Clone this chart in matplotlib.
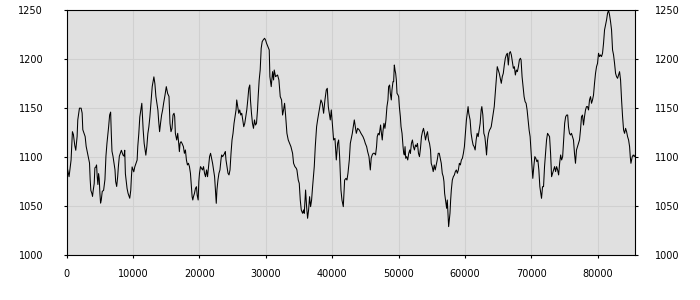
import numpy as np
import matplotlib
matplotlib.use('Agg')
import matplotlib.pyplot as plt

# values
pos = [0, 354, 657, 758, 859, 1010, 1212, 1364, 1465, 1566, 1667, 1919, 2172, 2323, 2424, 2626,
       2778, 2929, 3131, 3333, 3434, 3535, 3636, 3788, 3889, 3990, 4141, 4242, 4394, 4495, 4596,
       4697, 4798, 4899, 5000, 5101, 5202, 5353, 5555, 5757, 5909, 6060, 6212, 6313, 6464, 6616,
       6717, 6818, 6969, 7121, 7272, 7373, 7525, 7676, 7777, 7929, 8080, 8232, 8383, 8484, 8636,
       8737, 8838, 8939, 9090, 9242, 9494, 9646, 9747, 9848, 9999, 10100, 10252, 10454, 10605,
       10706, 10858, 11009, 11161, 11312, 11413, 11514, 11666, 11918, 12070, 12221, 12373, 12524,
       12726, 12878, 13130, 13282, 13433, 13585, 13736, 13837, 13989, 14140, 14292, 14443, 14595,
       14797, 14999, 15201, 15403,
       15556, 15707, 15859, 16010, 16162, 16263, 16364, 16566, 16717, 16869, 16970, 17071, 17222,
       17374, 17576, 17727, 17879, 18030, 18182, 18333, 18485, 18636, 18788, 18889, 18990, 19091,
       19242, 19394, 19545, 19646, 19798, 19899, 20000, 20152, 20303, 20455, 20606, 20758, 20909,
       21061, 21212, 21364, 21515, 21667, 21818, 21970, 22121, 22273, 22424, 22525, 22626, 22778,
       22929, 23081, 23232, 23333, 23485, 23636, 23788, 23889, 23990, 24141, 24293, 24444, 24596,
       24747, 24899, 25050, 25202, 25353, 25505, 25606, 25757, 25909, 26060, 26212, 26363, 26515,
       26666, 26818, 26969, 27121, 27272, 27424, 27575, 27676, 27828, 27979, 28131, 28282, 28434,
       28585, 28737, 28838, 28989, 29141, 29292, 29444, 29595, 29797, 29949, 30100,
       30503, 30603, 30804, 31005, 31156, 31256, 31457, 31759, 31960, 32161, 32362, 32513, 32663,
       32814, 32965, 33166, 33367, 33568, 33769, 34020, 34171, 34372, 34573, 34673, 34874, 35025,
       35176, 35327, 35528, 35678, 35779, 35980, 36131, 36281, 36432, 36583, 36734, 36884, 37035,
       37286, 37437, 37638, 37789, 38040, 38291, 38492, 38693, 38894, 39095, 39246, 39397, 39548,
       39698, 39849, 40000, 40201, 40402, 40603, 40804, 40955, 41105, 41306, 41457, 41658, 41859,
       42060, 42211, 42362, 42563, 42714, 43015, 43316, 43467, 43618, 43819, 44070, 44321, 44623,
       44824, 44975, 45176, 45326, 45527, 45728,
       45859, 46011, 46162, 46364, 46516, 46667, 46768, 46920, 47071, 47172, 47273, 47374, 47526,
       47627, 47778, 47930, 48081, 48233, 48384, 48485, 48637, 48738, 48889, 48990, 49142, 49243,
       49344, 49445, 49546, 49647, 49748, 49899, 50000, 50101, 50253, 50354, 50505, 50657, 50758,
       50859, 50960, 51061, 51212, 51364, 51515, 51667, 51768, 51919, 52071, 52222, 52374, 52525,
       52677, 52828, 52980, 53131, 53283, 53434, 53586, 53737, 53889, 54040, 54192, 54343, 54495,
       54646, 54798, 54899, 55050, 55202, 55353, 55505, 55656, 55808, 55959, 56111, 56262, 56414,
       56565, 56717, 56818, 56919, 57020, 57121, 57222, 57323, 57424, 57525, 57626, 57727, 57828,
       57929, 58080, 58232, 58383, 58535, 58686, 58838, 58989, 59141, 59292, 59444, 59595, 59747,
       59898, 60050, 60201, 60353, 60454, 60555,
       60758, 60909, 61061, 61212, 61364, 61515, 61667, 61818, 61970, 62121, 62273, 62424, 62525,
       62677, 62828, 62980, 63131, 63232, 63384, 63535, 63687, 63838, 63939, 64091, 64242, 64394,
       64545, 64697, 64848, 65000, 65151, 65303, 65454, 65606, 65757, 65909, 66060, 66212, 66363,
       66515, 66666, 66818, 66969, 67121, 67272, 67424, 67575, 67727, 67878, 68030, 68181, 68333,
       68434, 68585, 68737, 68888, 69040, 69191, 69343, 69494, 69646, 69797, 69949, 70050, 70202,
       70353, 70505, 70656, 70808, 70959, 71111, 71262, 71414, 71515, 71666, 71818, 71969, 72121,
       72272, 72424, 72575, 72727, 72878, 73030, 73181, 73333, 73484, 73636, 73787, 73939, 74090,
       74242, 74393, 74545, 74696, 74848, 74999, 75151, 75302, 75454,
       75574, 75725, 75875, 76026, 76177, 76328, 76479, 76630, 76781, 76932, 77083, 77233, 77384,
       77535, 77686, 77837, 77988, 78139, 78290, 78441, 78592, 78743, 78893, 79044, 79195, 79346,
       79497, 79648, 79799, 79950, 80101, 80252, 80402, 80553, 80704, 80855, 81006, 81157, 81308,
       81459, 81610, 81761, 81911, 82062, 82213, 82364, 82515, 82666, 82817, 82968, 83119, 83270,
       83420, 83571, 83722, 83873, 84024, 84175, 84326, 84477, 84628, 84779, 84879, 84980, 85080,
       85181, 85332, 85483, 85634]

level = [1092, 1080, 1097, 1111, 1126, 1123, 1112, 1107, 1114, 1121, 1138, 1150, 1150, 1145, 1128, 1124,
         1121, 1111, 1104, 1097, 1094, 1077, 1066, 1063, 1060, 1066, 1073, 1089, 1090, 1092, 1080,
         1072, 1083, 1078, 1063, 1053, 1056, 1065, 1066, 1077, 1101, 1114, 1124, 1131, 1143, 1146,
         1124, 1106, 1101, 1094, 1087, 1075, 1070, 1080, 1090, 1101, 1104, 1107, 1104, 1102, 1101,
         1107, 1083, 1077, 1068, 1063, 1058, 1066, 1080, 1090, 1087, 1085, 1090, 1094, 1097,
         1111, 1124, 1141, 1148, 1155, 1141, 1128, 1114, 1102, 1111, 1124, 1131, 1141,
         1158, 1172, 1182, 1175, 1162, 1155, 1148, 1138, 1126, 1135, 1143, 1148, 1155,
         1163, 1172, 1165, 1162,
         1134.5, 1126, 1129.4, 1143, 1144.8, 1141.3, 1124.3, 1117.5, 1124.3, 1114, 1105.6, 1114, 1115.8,
         1114, 1110.7, 1103.9, 1107.3, 1097.1, 1092, 1093.7, 1090.3, 1083.5, 1069.8, 1059.6, 1056.2, 1059.6,
         1063, 1068.1, 1069.8, 1061.3, 1056.2, 1075, 1083.5, 1090.3, 1088.6, 1086.9, 1090.3, 1083.5, 1080,
         1086.9, 1080, 1090.3, 1100.5, 1103.9, 1098.8, 1093.7, 1086.9, 1080, 1063, 1052.8, 1066.4, 1076.6,
         1083.5, 1086.9, 1097.1, 1102.2, 1100.5, 1102.2, 1103.9, 1105.6, 1097.1, 1090.3, 1083.5, 1081.8, 1086.9,
         1103.9, 1117.5, 1124.3, 1134.5, 1141.3, 1148.2, 1158.4, 1151.6, 1144.8, 1148.2, 1143, 1144.8, 1138,
         1131.1, 1134.5, 1141.3, 1148.2, 1158.4, 1170.3, 1173.7, 1158.4, 1144.8, 1134.5, 1129.4, 1138, 1132.8,
         1134.5, 1148.2, 1161.8, 1178.8, 1189, 1211.2, 1218, 1219.7, 1221.4, 1219.7, 1216.3,
         1209.5, 1182.2, 1172, 1187.3, 1178.8, 1189, 1182.2, 1183.9, 1178.8, 1161.8, 1158.4, 1143, 1148.2,
         1155, 1143, 1124.3, 1117.5, 1114, 1110.7, 1103.9, 1093.7, 1090.3, 1088.6, 1086.9, 1076.6, 1073.2,
         1056.2, 1046, 1042.6, 1046, 1042.6, 1066.4, 1049.4, 1037.5, 1046, 1059.6, 1049.4, 1056.2, 1069.8,
         1090.3, 1110.7, 1131.1, 1138, 1148.2, 1158.4, 1155, 1144.8, 1158.4, 1168.6, 1170.3, 1151.6, 1144.8,
         1138, 1148.2, 1134.5, 1117.5, 1119.2, 1097.1, 1114, 1117.5, 1100.5, 1066.4, 1056.2, 1049.4, 1076.6,
         1078.3, 1076.6, 1083.5, 1097.1, 1114, 1124.3, 1138, 1131.1, 1124.3, 1129.4, 1127.7, 1124.3, 1120.9,
         1117.5, 1114, 1110.7, 1105.6, 1100.5, 1086.9,
         1098.8, 1102.2, 1103.9, 1103.9, 1102.2, 1110.7, 1120.9, 1124.3, 1122.6, 1127.7, 1132.8, 1126, 1117.5,
         1126, 1134.5, 1129.4, 1138, 1151.6, 1158.4, 1172, 1173.7, 1165.2, 1158.4, 1168.6, 1177.1, 1177.1,
         1194.1, 1189, 1185.6, 1178.8, 1165.2, 1163.5, 1161.8, 1151.6, 1141.3, 1131.1, 1124.3, 1110.7, 1103.9,
         1102.2, 1110.7, 1098.8, 1100.5, 1097.1, 1103.9, 1107.3, 1103.9, 1114, 1117.5, 1110.7, 1107.3, 1112.4,
         1110.7, 1114, 1103.9, 1100.5, 1109, 1120.9, 1126, 1129.4, 1124.3, 1117.5, 1122.6, 1126, 1117.5,
         1114, 1107.3, 1093.7, 1090.3, 1085.2, 1092, 1086.9, 1092, 1097.1, 1103.9, 1103.9, 1098.8, 1093.7,
         1083.5, 1080, 1075, 1063, 1057.9, 1052.8, 1047.7, 1056.2, 1042.6, 1029, 1035.8, 1042.6, 1056.2,
         1066.4, 1076.6, 1080, 1081.7, 1085.2, 1086.9, 1083.5, 1086.9, 1093.7, 1092, 1097.1, 1098.8, 1103.9,
         1110.7, 1124.3, 1138, 1146.5, 1151.6, 1144.8,
         1138, 1124.3, 1117.5, 1112.4, 1110.7, 1107.3, 1117.5, 1124.3, 1120.9, 1127.7, 1134.5, 1148.2, 1151.6,
         1143, 1124.3, 1120.9, 1110.7, 1102.2, 1117.5, 1124.3, 1127.7, 1129.4, 1131.1, 1138, 1144.8, 1151.6,
         1165.2, 1178.8, 1192.4, 1189, 1185.6, 1180.5, 1175.4, 1182.2, 1185.6, 1194.1, 1201, 1204.4, 1206.1,
         1194.1, 1206.1, 1207.8, 1204.4, 1197.5, 1190.7, 1192.4, 1183.9, 1189, 1187.3, 1192.4, 1199.3, 1201,
         1199.3, 1182.2, 1172, 1161.8, 1156.7, 1155, 1148.2, 1138, 1127.7, 1120.9, 1103.9, 1093.7, 1078.3,
         1090.3, 1100.5, 1098.8, 1095.4, 1097.1, 1086.9, 1069.8, 1063, 1057.9, 1069.8, 1069.8, 1090.3, 1103.9,
         1117.5, 1124.3, 1122.6, 1120.9, 1103.9, 1080, 1083.5, 1086.9, 1090.3, 1085.2, 1090.3, 1086.9, 1081.8,
         1093.7, 1102.2, 1097.1, 1100.5, 1117.5, 1134.5, 1141.3, 1143, 1143,
         1131.1, 1124.3, 1122.6, 1124.3, 1120.9, 1117.5, 1103.9, 1093.7, 1107.3, 1110.7, 1114, 1117.5, 1127.7,
         1141.3, 1143, 1132.8, 1141.3, 1148.2, 1151.6, 1151.6, 1148.2, 1158.4, 1161.8, 1155, 1158.4, 1163.5,
         1175.4, 1185.6, 1192.4, 1195.8, 1206.1, 1202.7, 1204.4, 1202.7, 1206.1, 1216.3, 1229.9, 1235, 1240.1,
         1246.9, 1250, 1245.2, 1238.4, 1229.9, 1209.5, 1204.4, 1195.8, 1185.6, 1182.2, 1180.5, 1183.9, 1187.3,
         1178.8, 1158.4, 1141.3, 1127.7, 1124.3, 1129.4, 1126, 1120.9, 1117.5, 1110.7, 1100.5, 1093.7, 1097.1,
         1100.5, 1102.2, 1100.5, 1102.2]

x_ticks = [0, 10000, 20000, 30000, 40000, 50000, 60000, 70000, 80000]
y_ticks = [1000, 1050, 1100, 1150, 1200, 1250]

plt.rcParams['font.family'] = 'DejaVu Sans'
plt.rcParams['font.size'] = 7

fig = plt.figure(figsize=(7, 3), dpi=100)
ax = fig.add_axes([0.0953, 0.15, 0.8119, 0.8157])
ax.set_facecolor('#e0e0e0')
ax.plot(pos, level, color='black', linewidth=0.75)

ax.set_xlim(0, 85600)
ax.set_ylim(1000, 1250)
ax.set_xticks(x_ticks)
ax.set_yticks(y_ticks)
ax.grid(True, color='#d0d0d0', linewidth=0.8)
ax.set_axisbelow(True)
for s in ax.spines.values():
    s.set_color('black')
    s.set_linewidth(0.8)
ax.tick_params(axis='x', direction='out', length=2.5, width=0.8, pad=7.5)
ax.tick_params(axis='y', direction='out', length=2.5, width=0.8, pad=14.5)

# right hand copy of the y labels
ax2 = ax.twinx()
ax2.set_ylim(1000, 1250)
ax2.set_yticks(y_ticks)
ax2.tick_params(axis='y', direction='out', length=2.5, width=0.8, pad=12)
for s in ax2.spines.values():
    s.set_visible(False)

fig.savefig('out.png', dpi=100)
